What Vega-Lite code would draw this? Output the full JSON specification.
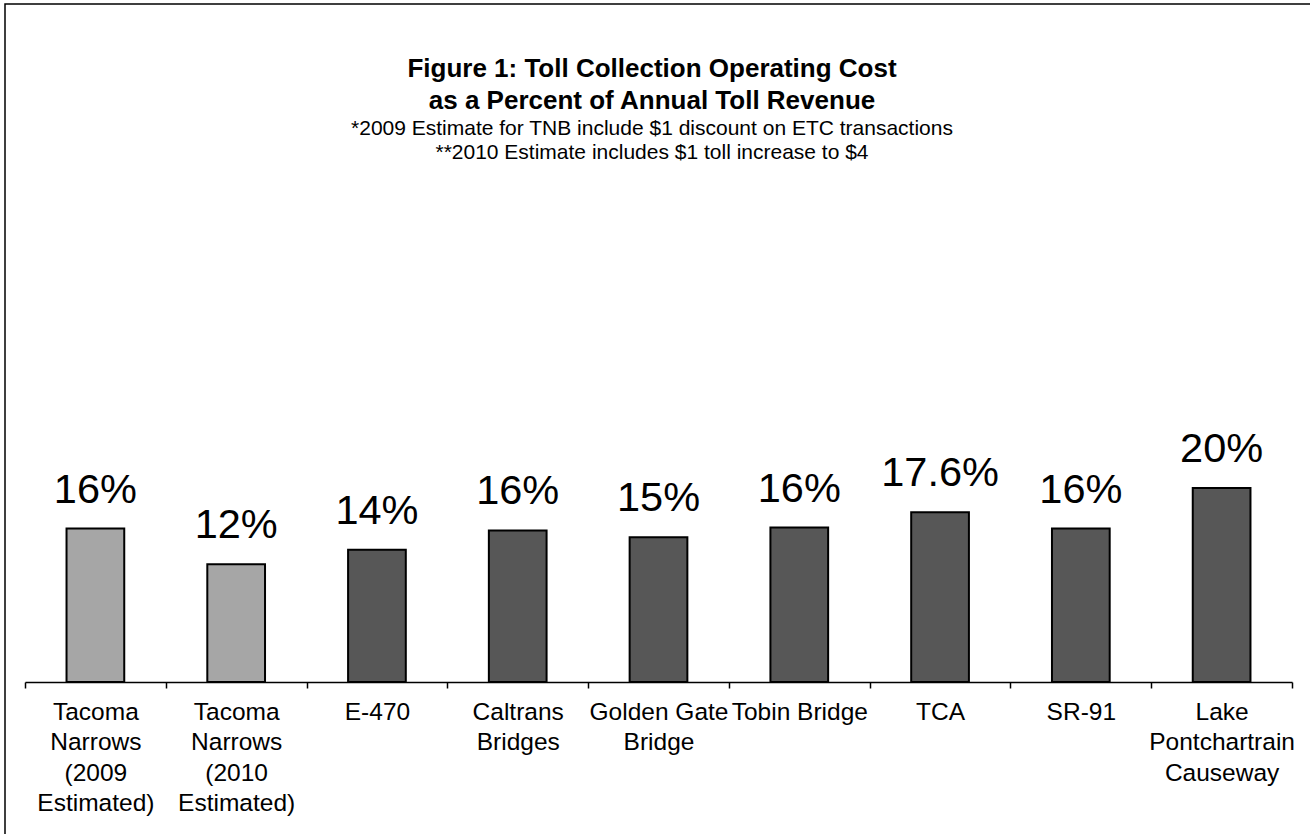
{
  "$schema": "https://vega.github.io/schema/vega-lite/v6.json",
  "width": 1320,
  "height": 840,
  "autosize": "none",
  "padding": {"left": 5, "top": 4, "right": 0, "bottom": 0},
  "background": "white",
  "config": {"view": {"stroke": "black", "strokeWidth": 1.5}, "font": "Liberation Sans"},
  "title": {
    "text": ["Figure 1: Toll Collection Operating Cost", "as a Percent of Annual Toll Revenue"],
    "subtitle": ["*2009 Estimate for TNB include $1 discount on ETC transactions", "**2010 Estimate includes $1 toll increase to $4"],
    "anchor": "middle",
    "frame": "group",
    "offset": -159,
    "dx": -13,
    "font": "Liberation Sans",
    "fontSize": 26,
    "fontWeight": "bold",
    "lineHeight": 32,
    "color": "black",
    "subtitleFont": "Liberation Sans",
    "subtitleFontSize": 21,
    "subtitleLineHeight": 24,
    "subtitlePadding": 4,
    "subtitleColor": "black"
  },
  "data": {
    "values": [
      {"site": "Tacoma Narrows (2009 Estimated)", "pct": 15.9, "label": "16%", "kind": "Estimated"},
      {"site": "Tacoma Narrows (2010 Estimated)", "pct": 12.2, "label": "12%", "kind": "Estimated"},
      {"site": "E-470", "pct": 13.7, "label": "14%", "kind": "Actual"},
      {"site": "Caltrans Bridges", "pct": 15.7, "label": "16%", "kind": "Actual"},
      {"site": "Golden Gate Bridge", "pct": 15.0, "label": "15%", "kind": "Actual"},
      {"site": "Tobin Bridge", "pct": 16.0, "label": "16%", "kind": "Actual"},
      {"site": "TCA", "pct": 17.6, "label": "17.6%", "kind": "Actual"},
      {"site": "SR-91", "pct": 15.9, "label": "16%", "kind": "Actual"},
      {"site": "Lake Pontchartrain Causeway", "pct": 20.1, "label": "20%", "kind": "Actual"}
    ]
  },
  "layer": [
    {
      "mark": {"type": "bar", "width": {"band": 0.41}, "stroke": "black", "strokeWidth": 2},
      "encoding": {
        "x": {
          "field": "site", "type": "nominal", "sort": null,
          "scale": {"range": [20, 1287], "paddingInner": 0, "paddingOuter": 0},
          "axis": {
            "title": null, "orient": "bottom", "offset": -162,
            "domainColor": "black", "domainWidth": 1.5,
            "tickBand": "extent", "tickColor": "black", "tickSize": 6, "tickWidth": 1.5,
            "labelAngle": 0, "labelFontSize": 24.5, "labelLineHeight": 30.5, "labelPadding": 12,
            "labelColor": "black", "labelBaseline": "top", "labelLimit": 0, "labelFont": "Liberation Sans",
            "grid": false,
            "labelExpr": "datum.label == 'Golden Gate Bridge' ? ['Golden Gate', 'Bridge'] : datum.label == 'Tobin Bridge' ? 'Tobin Bridge' : datum.label == 'Lake Pontchartrain Causeway' ? ['Lake', 'Pontchartrain', 'Causeway'] : split(datum.label, ' ')"
          }
        },
        "y": {"field": "pct", "type": "quantitative", "scale": {"domain": [-16.79, 70.26], "nice": false, "zero": false}, "axis": null},
        "y2": {"datum": 0},
        "fill": {"field": "kind", "type": "nominal", "scale": {"domain": ["Estimated", "Actual"], "range": ["#a6a6a6", "#575757"]}, "legend": null}
      }
    },
    {
      "mark": {"type": "text", "fontSize": 41.5, "dy": -26, "baseline": "alphabetic", "align": "center", "color": "black", "font": "Liberation Sans"},
      "encoding": {
        "x": {"field": "site", "type": "nominal", "sort": null},
        "y": {"field": "pct", "type": "quantitative"},
        "text": {"field": "label"}
      }
    }
  ]
}
